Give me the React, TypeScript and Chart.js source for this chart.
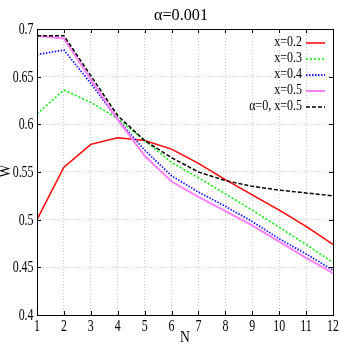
import React, { useEffect, useRef } from "react";
import { Chart, registerables } from "chart.js";

Chart.register(...registerables);

const nValues = [1, 2, 3, 4, 5, 6, 7, 8, 9, 10, 11, 12];
const seriesX02 = [0.5, 0.555, 0.579, 0.586, 0.583, 0.574, 0.559, 0.542, 0.526, 0.51, 0.493, 0.474];
const seriesX03 = [0.611, 0.636, 0.623, 0.606, 0.583, 0.56, 0.544, 0.527, 0.51, 0.492, 0.474, 0.455];
const seriesX04 = [0.673, 0.678, 0.643, 0.605, 0.573, 0.546, 0.529, 0.514, 0.498, 0.48, 0.464, 0.447];
const seriesX05 = [0.693, 0.69, 0.647, 0.605, 0.567, 0.54, 0.524, 0.509, 0.494, 0.477, 0.46, 0.444];
const seriesA0 = [0.693, 0.693, 0.651, 0.609, 0.583, 0.565, 0.55, 0.541, 0.535, 0.531, 0.528, 0.525];
const seriesLabels = ["x=0.2", "x=0.3", "x=0.4", "x=0.5", "α=0, x=0.5"];
const yTickLabels = ["0.4", "0.45", "0.5", "0.55", "0.6", "0.65", "0.7"];
const xTickLabels = ["1", "2", "3", "4", "5", "6", "7", "8", "9", "10", "11", "12"];
const titleText = "α=0.001";
const xTitle = "N";
const yTitle = "W";

const FONT = "'Liberation Serif', 'DejaVu Serif', serif";

const styles = [
  { color: "#ff0000", dash: [] as number[], width: 1.5 },
  { color: "#00ee00", dash: [2, 2], width: 1.5 },
  { color: "#1a1aff", dash: [1.5, 1.5], width: 1.8 },
  { color: "#ff80ff", dash: [] as number[], width: 2 },
  { color: "#000000", dash: [4, 2], width: 1.5 },
];

const decorPlugin = {
  id: "decor",
  afterDraw(chart: any) {
    const ctx = chart.ctx;
    const area = chart.chartArea;
    const xs = chart.scales.x;
    const ys = chart.scales.y;
    ctx.save();
    ctx.strokeStyle = "#000";
    ctx.lineWidth = 1;
    ctx.setLineDash([]);
    ctx.strokeRect(Math.round(area.left) + 0.5, Math.round(area.top) + 0.5, Math.round(area.right - area.left), Math.round(area.bottom - area.top));
    ctx.beginPath();
    xTickLabels.forEach((t) => {
      const px = Math.round(xs.getPixelForValue(Number(t))) + 0.5;
      ctx.moveTo(px, area.bottom);
      ctx.lineTo(px, area.bottom - 4);
      ctx.moveTo(px, area.top);
      ctx.lineTo(px, area.top + 4);
    });
    yTickLabels.forEach((t) => {
      const py = Math.round(ys.getPixelForValue(Number(t))) + 0.5;
      ctx.moveTo(area.left, py);
      ctx.lineTo(area.left + 4, py);
      ctx.moveTo(area.right, py);
      ctx.lineTo(area.right - 4, py);
    });
    ctx.stroke();

    ctx.fillStyle = "#000";
    const drawText = (text: string, x: number, y: number, size: number, sx: number, align: string, rot = 0) => {
      ctx.save();
      ctx.translate(x, y);
      if (rot) ctx.rotate(rot);
      ctx.scale(sx, 1);
      ctx.font = `${size}px ${FONT}`;
      ctx.textAlign = align;
      ctx.textBaseline = "middle";
      ctx.fillText(text, 0, 0);
      ctx.restore();
    };
    yTickLabels.forEach((t) => {
      drawText(t, area.left - 3.5, ys.getPixelForValue(Number(t)) + 0.5, 17, 0.7, "right");
    });
    xTickLabels.forEach((t) => {
      drawText(t, xs.getPixelForValue(Number(t)), area.bottom + 11.5, 17, 0.7, "center");
    });
    drawText(titleText, 181, 16, 17, 0.95, "center");
    drawText(xTitle, 185, 338, 17, 0.8, "center");
    drawText(yTitle, 6, 171, 17, 0.8, "center", -Math.PI / 2);
    seriesLabels.forEach((lab, i) => {
      const y = 42.5 + 16 * i;
      drawText(lab, 302, y, 15, 0.8, "right");
      const st = styles[i];
      ctx.save();
      ctx.strokeStyle = st.color;
      ctx.lineWidth = st.width;
      ctx.setLineDash(st.dash);
      ctx.beginPath();
      ctx.moveTo(306, y + 0.5);
      ctx.lineTo(325, y + 0.5);
      ctx.stroke();
      ctx.restore();
    });
    ctx.restore();
  },
};

export default function App() {
  const ref = useRef<HTMLCanvasElement | null>(null);
  useEffect(() => {
    document.body.style.margin = "0";
    const all = [seriesX02, seriesX03, seriesX04, seriesX05, seriesA0];
    const orders = [4, 3, 2, 1, 0];
    const chart = new Chart(ref.current as HTMLCanvasElement, {
      type: "line",
      data: {
        datasets: all.map((s, i) => ({
          label: seriesLabels[i],
          data: s.map((v, j) => ({ x: nValues[j], y: v })),
          borderColor: styles[i].color,
          borderWidth: styles[i].width,
          borderDash: styles[i].dash,
          pointRadius: 0,
          fill: false,
          tension: 0,
          order: orders[i],
        })),
      },
      options: {
        animation: false,
        responsive: false,
        devicePixelRatio: 1,
        layout: { padding: { top: 29, right: 13, left: 0, bottom: 0 } },
        plugins: { legend: { display: false }, tooltip: { enabled: false }, title: { display: false } },
        scales: {
          x: {
            type: "linear",
            min: 1,
            max: 12,
            ticks: { display: false, stepSize: 1 },
            grid: { color: "#c8c8c8", drawTicks: false, lineWidth: 1 },
            border: { display: false, dash: [1, 2] },
            afterFit: (s: any) => {
              s.height = 31;
            },
          },
          y: {
            type: "linear",
            min: 0.4,
            max: 0.7,
            ticks: { display: false, stepSize: 0.05 },
            grid: { color: "#c8c8c8", drawTicks: false, lineWidth: 1 },
            border: { display: false, dash: [1, 2] },
            afterFit: (s: any) => {
              s.width = 37;
            },
          },
        },
      } as any,
      plugins: [decorPlugin],
    });
    return () => chart.destroy();
  }, []);
  return <canvas ref={ref} width={346} height={346} style={{ width: 346, height: 346, display: "block" }} />;
}
